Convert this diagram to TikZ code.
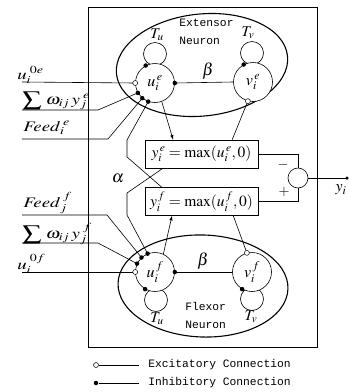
\documentclass[tikz,border=0pt]{standalone}
\usepackage{mathptmx}
\usepackage{graphicx}
\usepackage{fontspec}
\setmainfont{Liberation Serif}
\setmonofont{Liberation Mono}
\usetikzlibrary{calc}
\newcommand{\wlab}[1]{\scalebox{1.3}[1]{#1}}
\begin{document}
\begin{tikzpicture}[x=1pt,y=-1pt, line width=0.6pt,
 neuron/.style={circle,draw,fill=white,minimum size=39pt,inner sep=0pt,font=\fontsize{16}{16}\selectfont},
 loopc/.style={circle,draw,minimum size=23pt,inner sep=0pt},
 inh/.style={circle,fill,inner sep=0pt,minimum size=4.5pt},
 exc/.style={circle,draw,fill=white,inner sep=0pt,minimum size=5pt,line width=0.5pt},
 eqbox/.style={draw,fill=white,minimum width=113pt,minimum height=28pt,inner sep=0pt,font=\fontsize{15.5}{15.5}\selectfont},
 lab/.style={anchor=base west,inner sep=0pt,font=\fontsize{14.5}{14.5}\selectfont},
 sym/.style={inner sep=0pt,font=\fontsize{15}{15}\selectfont},
 mono/.style={font=\fontsize{11.3}{18}\selectfont\ttfamily,align=left,inner sep=0pt,anchor=north west},
 ell/.style={line width=1.1pt},
 sumc/.style={circle,draw,minimum size=20pt,inner sep=0pt}]
\useasboundingbox (0,0) rectangle (349,392);
\fill[white] (0,0) rectangle (349,392);
% outer frame
\draw[line width=0.5pt] (88,7) rectangle (317,347);
% ellipses
\draw[ell, rotate around={6:(202,65)}] (202,65) ellipse [x radius=86, y radius=51];
\draw[ell, rotate around={-2:(203,286)}] (203,286) ellipse [x radius=85, y radius=51];
% self loops
\node[loopc] (tue) at (155,54) {};
\node[loopc] (tve) at (252,53) {};
\node[loopc] (tuf) at (156,300) {};
\node[loopc] (tvf) at (252,299) {};
% neurons
\node[neuron] (ue) at (155,83) {$u_i^{\,e}$};
\node[neuron] (ve) at (253,82) {$v_i^{\,e}$};
\node[neuron] (uf) at (155,272) {$u_i^{\,f}$};
\node[neuron] (vf) at (252,272) {$v_i^{\,f}$};
% loop labels
\node[sym,font=\fontsize{15}{15}\selectfont] (lTue) at (157,35) {$T_u$};
\node[sym,font=\fontsize{15}{15}\selectfont] (lTve) at (248,33) {$T_v$};
\node[sym,font=\fontsize{15}{15}\selectfont] (lTuf) at (157,319) {$T_u$};
\node[sym,font=\fontsize{15}{15}\selectfont] (lTvf) at (251,317) {$T_v$};
% neuron group names
\node[mono] (ext) at (179,19) {Extensor\\Neuron};
\node[mono] (flx) at (185,302) {Flexor\\Neuron};
% equation boxes
\node[eqbox] (ye) at (201.5,154) {$y_i^{\,e}=\max(u_i^{\,e},0)$};
\node[eqbox] (yf) at (201.5,201.5) {$y_i^{\,f}=\max(u_i^{\,f},0)$};
% beta connections
\draw (ue.0) -- (ve.180);
\draw (uf.0) -- (vf.180);
\node[sym,font=\fontsize{17}{17}\selectfont] (be) at (208,71) {$\beta$};
\node[sym,font=\fontsize{17}{17}\selectfont] (bf) at (203,261) {$\beta$};
% outputs to boxes
\draw[-latex] (ue.290) -- ($(ye.north west)!0.25!(ye.north east)$);
\draw[-latex] (uf.65) -- ($(yf.south west)!0.24!(yf.south east)$);
\draw (ve.255) -- ($(ye.north west)!0.77!(ye.north east)$);
\draw (vf.105) -- ($(yf.south west)!0.78!(yf.south east)$);
% alpha cross connections
\coordinate (a1) at (127,140);
\coordinate (a2) at (127,157);
\draw (ue.250) -- (a1) -- (a2) -- ($(yf.north west)!0.15!(yf.north east)$);
\coordinate (b1) at (127,193);
\coordinate (b2) at (127,215);
\draw ($(ye.south west)!0.16!(ye.south east)$) -- (b1) -- (b2) -- (uf.112);
\node[sym,font=\fontsize{17}{17}\selectfont] (al) at (118,178) {$\alpha$};
% external inputs (upper)
\coordinate (i1s) at (22,82);
\coordinate (i2s) at (22,110);
\coordinate (i2k) at (98,110);
\coordinate (i3s) at (22,139);
\coordinate (i3k) at (108,139);
\draw (i1s) -- (ue.180);
\draw (i2s) -- (i2k) -- (ue.210);
\draw (i3s) -- (i3k) -- (ue.230);
\node[lab] (l1) at (17,79) {\wlab{$u_i^{\;0e}$}};
\node[lab] (l2) at (22,104) {\wlab{$\displaystyle\sum\,\omega_{ij}\,y_j^{\;e}$}};
\node[lab] (l3) at (23,131) {\wlab{$\mathit{Feed}_i^{\;e}$}};
% external inputs (lower)
\coordinate (j1s) at (22,272);
\coordinate (j2s) at (22,243);
\coordinate (j2k) at (98,243);
\coordinate (j3s) at (22,215);
\coordinate (j3k) at (107,215);
\draw (j1s) -- (uf.180);
\draw (j2s) -- (j2k) -- (uf.155);
\draw (j3s) -- (j3k) -- (uf.133);
\node[lab] (k3) at (23,207) {\wlab{$\mathit{Feed}_j^{\;f}$}};
\node[lab] (k2) at (22,238) {\wlab{$\displaystyle\sum\,\omega_{ij}\,y_j^{\;f}$}};
\node[lab] (k1) at (17,269) {\wlab{$u_i^{\;0f}$}};
% markers
\node[exc] (me1) at (ue.180) {};
\node[inh] (me2) at (ue.210) {};
\node[inh] (me3) at (ue.230) {};
\node[inh] (me4) at (ue.250) {};
\node[inh] (me5) at (ue.0) {};
\node[inh] (me6) at (ue.118) {};
\node[inh] (me7) at (ve.118) {};
\node[exc] (me8) at (ve.255) {};
\node[exc] (mf1) at (uf.180) {};
\node[inh] (mf2) at (uf.155) {};
\node[inh] (mf3) at (uf.133) {};
\node[inh] (mf4) at (uf.112) {};
\node[inh] (mf5) at (uf.0) {};
\node[inh] (mf6) at (uf.240) {};
\node[inh] (mf7) at (vf.240) {};
\node[exc] (mf8) at (vf.105) {};
% summation
\node[sumc] (sum) at (298,178) {};
\draw (ye.east) -| (sum.north);
\draw (yf.east) -| (sum.south);
\node[sym,font=\fontsize{14}{14}\selectfont] (mi) at (283,165) {$-$};
\node[sym,font=\fontsize{14}{14}\selectfont] (pl) at (284,192) {$+$};
\coordinate (yo) at (347,178);
\draw (sum.east) -- (yo);
\node[inh,minimum size=3.5pt] (yod) at (yo) {};
\node[sym,font=\fontsize{16}{16}\selectfont] (yil) at (341,190) {$y_i$};
% legend
\node[exc] (lgE) at (96,365) {};
\coordinate (lgE2) at (139,365);
\draw (lgE) -- (lgE2);
\node[mono,anchor=west] (lgEt) at (148,365) {Excitatory Connection};
\node[inh] (lgI) at (96,383) {};
\coordinate (lgI2) at (139,383);
\draw (lgI) -- (lgI2);
\node[mono,anchor=west] (lgIt) at (148,383) {Inhibitory Connection};
\end{tikzpicture}
\end{document}
